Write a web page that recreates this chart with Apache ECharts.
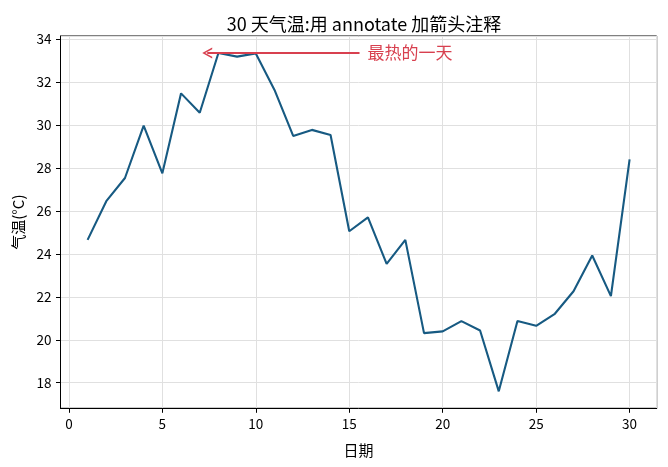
<!DOCTYPE html>
<html>
<head>
<meta charset="utf-8">
<script src="https://cdn.jsdelivr.net/npm/echarts@6/dist/echarts.min.js"></script>
<style>
    html, body { margin: 0; padding: 0; background: #fff; }
    #chart { width: 668px; height: 467px; }
</style>
</head>
<body>
<div id="chart"></div>
<script>
// 每天的气温
var days = [1, 2, 3, 4, 5, 6, 7, 8, 9, 10, 11, 12, 13, 14, 15,
            16, 17, 18, 19, 20, 21, 22, 23, 24, 25, 26, 27, 28, 29, 30];
var temps = [24.65, 26.45, 27.53, 29.97, 27.75, 31.47, 30.57, 33.35, 33.18, 33.33,
             31.63, 29.49, 29.77, 29.53, 25.05, 25.70, 23.53, 24.65, 20.31, 20.39,
             20.87, 20.43, 17.60, 20.87, 20.65, 21.21, 22.26, 23.92, 22.03, 28.40];
// annotate: 箭头指向 x=7 附近 (argmax 的下标, 加上箭头收缩), 文字放在 x=16
var arrowTo = [7.4, 33.35];
var arrowFrom = [15.55, 33.35];
var annotText = '最热的一天';

var font = 'Noto Sans CJK SC';
var lineColor = '#175a82';
var red = '#d8404f';

var points = days.map(function(d, i) { return [d, temps[i]]; });

option = {
    animation: false,
    textStyle: { fontFamily: font },
    title: {
        text: '30 天气温:用 annotate 加箭头注释',
        left: 359,
        textAlign: 'center',
        top: 10,
        textStyle: { fontFamily: font, fontSize: 18, fontWeight: 'normal', color: '#000' }
    },
    grid: {
        left: 60.5, right: 11.3, top: 36, bottom: 58.7,
        show: true, borderColor: '#000', borderWidth: 1
    },
    xAxis: {
        type: 'value',
        min: -0.45,
        max: 31.45,
        splitNumber: 6,
        name: '日期',
        nameLocation: 'middle',
        nameGap: 34,
        nameTextStyle: { fontFamily: font, fontSize: 15, color: '#000' },
        axisLine: { show: true, onZero: false, lineStyle: { color: '#000', width: 1 } },
        axisTick: { show: true, length: 4.5, lineStyle: { color: '#000' } },
        axisLabel: { margin: 9, fontSize: 13.5, color: '#000', showMinLabel: false, showMaxLabel: false },
        splitLine: { show: true, lineStyle: { color: '#e0e0e0', width: 1 } }
    },
    yAxis: {
        type: 'value',
        min: 16.81,
        max: 34.14,
        splitNumber: 8,
        name: '气温(°C)',
        nameLocation: 'middle',
        nameGap: 34.5,
        nameRotate: 90,
        nameTextStyle: { fontFamily: font, fontSize: 15, color: '#000' },
        axisLine: { show: true, onZero: false, lineStyle: { color: '#000', width: 1 } },
        axisTick: { show: true, length: 4.5, lineStyle: { color: '#000' } },
        axisLabel: { margin: 9, fontSize: 13.5, color: '#000', showMinLabel: false, showMaxLabel: false },
        splitLine: { show: true, lineStyle: { color: '#e0e0e0', width: 1 } }
    },
    series: [
        {
            name: '气温',
            type: 'line',
            data: points,
            showSymbol: false,
            lineStyle: { color: lineColor, width: 2.1 },
            itemStyle: { color: lineColor },
            markLine: {
                silent: true,
                symbol: ['none', 'path://M5,0 L10,10 L8.4,10 L5,3 L1.6,10 L0,10 Z'],
                symbolSize: [11, 10],
                lineStyle: { color: red, width: 2, type: 'solid' },
                label: {
                    show: true,
                    position: 'start',
                    distance: 8,
                    formatter: annotText,
                    color: red,
                    fontSize: 17,
                    fontFamily: font
                },
                data: [[{ coord: arrowFrom }, { coord: arrowTo }]]
            }
        }
    ]
};

var chart = echarts.init(document.getElementById('chart'));
chart.setOption(option);
</script>
</body>
</html>
